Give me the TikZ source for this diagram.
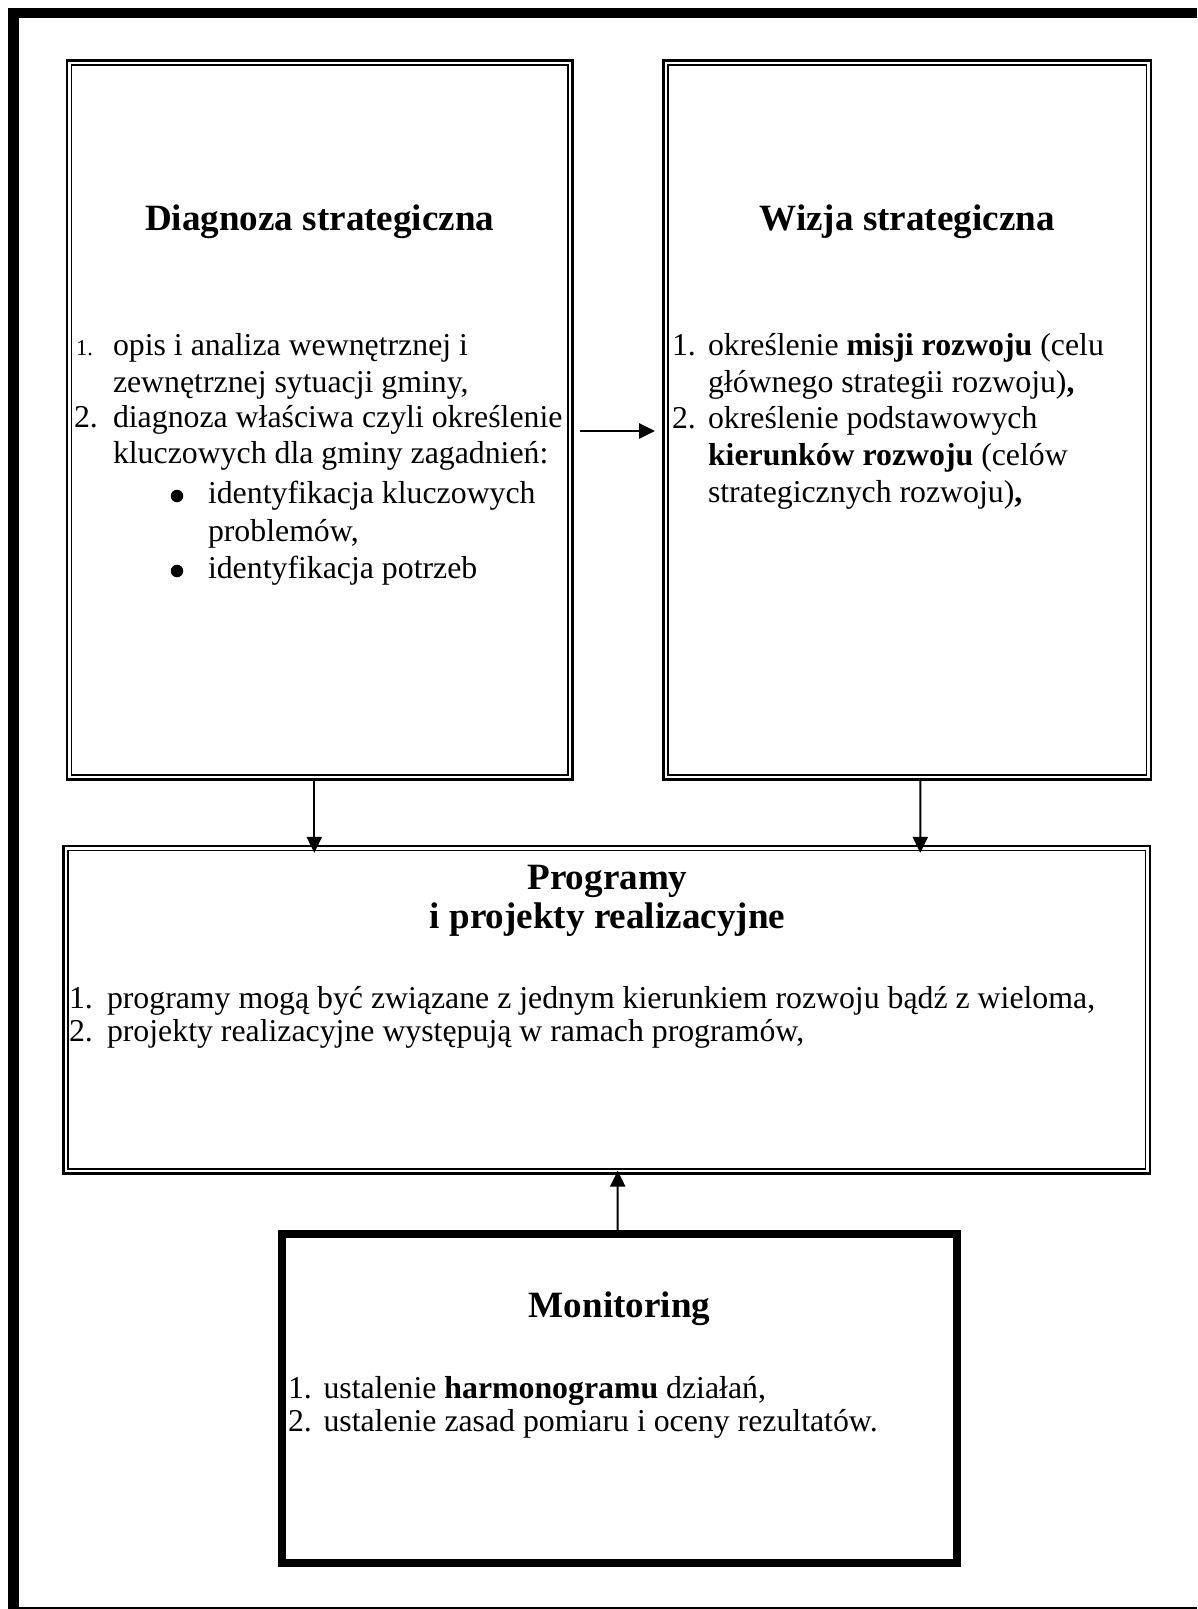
\documentclass[tikz,border=0pt]{standalone}
\usepackage{fontspec}
\setmainfont{Liberation Serif}
\usetikzlibrary{arrows.meta}
\newlength\pxu
\setlength\pxu{0.37736pt}
\begin{document}
\begin{tikzpicture}[x=0.37736pt,y=-0.37736pt]
\tikzset{
  outerbox/.style={draw, line width=2.6\pxu, inner sep=0pt, outer sep=0pt},
  innerline/.style={line width=1.5\pxu},
  monbox/.style={draw, line width=8.3\pxu, inner sep=0pt, outer sep=0pt},
  conn/.style={line width=2\pxu, -{Triangle[length=6pt,width=5.7pt]}},
  body/.style={anchor=base west, inner sep=0pt, outer sep=0pt, font=\fontsize{12}{14}\selectfont},
  ttl/.style={anchor=base, inner sep=0pt, outer sep=0pt, font=\fontsize{14}{16}\selectfont\bfseries},
  bulletdot/.style={circle, fill, draw=none, inner sep=0pt, minimum size=12.5\pxu},
}
\useasboundingbox (0,0) rectangle (1197,1609);
% outer frame
\fill (8,8) rectangle (19.3,1609);
\fill (8,8) rectangle (1197,18.3);
\draw[line width=1.2\pxu] (19,1608) -- (1197,1608);

% boxes
\node[outerbox, minimum width=505.5\pxu, minimum height=719.2\pxu] (diag) at (319.75,420.1) {};
\node[outerbox, minimum width=487.5\pxu, minimum height=719.2\pxu] (wiz) at (907.25,420.1) {};
\node[outerbox, minimum width=1086.5\pxu, minimum height=327.4\pxu] (prog) at (606.75,1009.5) {};
\node[monbox, minimum width=675\pxu, minimum height=329\pxu] (mon) at (619.5,1398.5) {};
\draw[innerline] ([shift={(4.3,4.5)}]diag.north west) rectangle ([shift={(-4.3,-4.5)}]diag.south east);
\draw[innerline] ([shift={(4.3,4.5)}]wiz.north west) rectangle ([shift={(-4.3,-4.5)}]wiz.south east);
\draw[innerline] ([shift={(4.3,4.8)}]prog.north west) rectangle ([shift={(-4.3,-4.3)}]prog.south east);

% Diagnoza
\node[ttl] (diagT) at (319.75,231) {Diagnoza strategiczna};
\node[body] (dn1) at (76,355) {\fontsize{8.5}{10}\selectfont 1.};
\node[body] (dl1) at (113,355) {opis i analiza wewnętrznej i};
\node[body] (dl2) at (113,392) {zewnętrznej sytuacji gminy,};
\node[body] (dn2) at (74,427) {2.};
\node[body] (dl3) at (113,427) {diagnoza właściwa czyli określenie};
\node[body] (dl4) at (113,463) {kluczowych dla gminy zagadnień:};
\node[bulletdot] (db1) at (177,496) {};
\node[body] (dl5) at (208,503) {identyfikacja kluczowych};
\node[body] (dl6) at (208,541) {problemów,};
\node[bulletdot] (db2) at (177,571) {};
\node[body] (dl7) at (208,578) {identyfikacja potrzeb};

% Wizja
\node[ttl] (wizT) at (907.25,231) {Wizja strategiczna};
\node[body] (wn1) at (672,355) {1.};
\node[body] (wl1) at (708,355) {określenie \textbf{misji rozwoju} (celu};
\node[body] (wl2) at (708,392) {głównego strategii rozwoju)\textbf{,}};
\node[body] (wn2) at (672,428) {2.};
\node[body] (wl3) at (708,428) {określenie podstawowych};
\node[body] (wl4) at (708,465) {\textbf{kierunków rozwoju} (celów};
\node[body] (wl5) at (708,502) {strategicznych rozwoju)\textbf{,}};

% Programy
\node[ttl] (progT1) at (607.5,889) {Programy};
\node[ttl] (progT2) at (607.5,928) {i projekty realizacyjne};
\node[body] (pn1) at (69,1008) {1.};
\node[body] (pl1) at (107,1008) {programy mogą być związane z jednym kierunkiem rozwoju bądź z wieloma,};
\node[body] (pn2) at (69,1041) {2.};
\node[body] (pl2) at (107,1041) {projekty realizacyjne występują w ramach programów,};

% Monitoring
\node[ttl] (monT) at (619.5,1317) {Monitoring};
\node[body] (mn1) at (288,1398) {1.};
\node[body] (ml1) at (323.5,1398) {ustalenie \textbf{harmonogramu} działań,};
\node[body] (mn2) at (288,1431) {2.};
\node[body] (ml2) at (323.5,1431) {ustalenie zasad pomiaru i oceny rezultatów.};

% connectors
\draw[conn] ([shift={(7.5,370.5)}]diag.north east) -- ([shift={(-8.5,370.5)}]wiz.north west);
\draw[conn] ([shift={(247.3,0)}]diag.south west) -- ([shift={(250.8,7)}]prog.north west);
\draw[conn] ([shift={(256.8,0)}]wiz.south west) -- ([shift={(856.8,7)}]prog.north west);
\draw[conn] ([shift={(335.7,-4)}]mon.north west) -- ([shift={(554.2,-2.5)}]prog.south west);
\end{tikzpicture}
\end{document}
